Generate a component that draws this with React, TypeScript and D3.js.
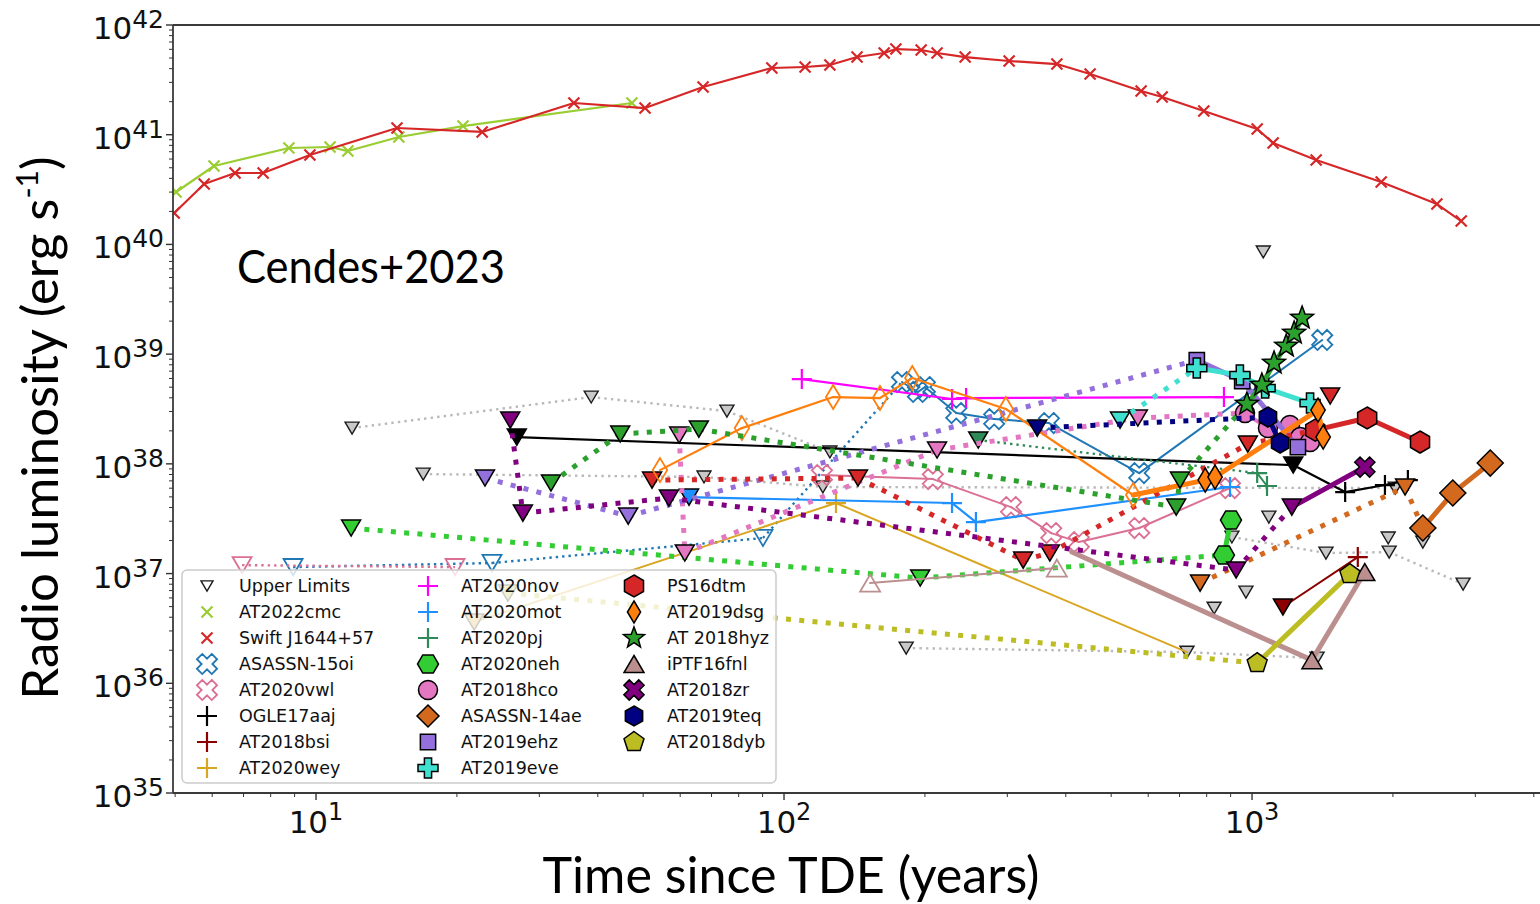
import React from 'react';
import * as d3 from 'd3';

type Pt = [number, number, number];
// Each point: [log10 time, log10 radio luminosity (erg/s), kind]
// kind 0 = detection, 1 = upper limit (dotted link), 2 = upper limit (solid link), 4 = line vertex only

const at2022cmc: Pt[] = [[0.701,40.478,0],[0.782,40.715,0],[0.942,40.879,0],[1.030,40.888,0],[1.068,40.851,0],[1.177,40.979,0],[1.314,41.079,0],[1.675,41.289,0]];
const swiftJ1644: Pt[] = [[0.697,40.286,0],[0.761,40.551,0],[0.827,40.651,0],[0.887,40.651,0],[0.987,40.815,0],[1.173,41.061,0],[1.355,41.025,0],[1.551,41.289,0],[1.703,41.243,0],[1.827,41.435,0],[1.974,41.608,0],[2.045,41.617,0],[2.098,41.635,0],[2.156,41.708,0],[2.214,41.745,0],[2.239,41.781,0],[2.293,41.772,0],[2.327,41.745,0],[2.387,41.708,0],[2.481,41.672,0],[2.583,41.644,0],[2.654,41.553,0],[2.763,41.398,0],[2.808,41.344,0],[2.897,41.216,0],[3.011,41.052,0],[3.045,40.924,0],[3.137,40.769,0],[3.276,40.569,0],[3.395,40.368,0],[3.447,40.213,0]];
const asassn15oi: Pt[] = [[0.951,37.059,1],[1.376,37.096,1],[1.955,37.324,1],[2.252,38.746,0],[2.286,38.655,0],[2.301,38.700,0],[2.368,38.463,0],[2.449,38.408,0],[2.566,38.372,0],[2.759,37.916,0],[3.150,39.129,0]];
const at2020vwlLimits: Pt[] = [[0.842,37.077,1],[1.297,37.059,1]];
const at2020vwl: Pt[] = [[2.081,37.898,0],[2.318,37.861,0],[2.485,37.606,0],[2.571,37.369,0],[2.630,37.287,0],[2.759,37.415,0],[2.953,37.779,0]];
const ogle17aaj: Pt[] = [[1.429,38.244,2],[3.088,37.989,2],[3.199,37.743,0],[3.284,37.807,0],[3.333,37.852,0]];
const at2018bsi: Pt[] = [[3.066,36.695,2],[3.226,37.150,0]];
const at2020wey: Pt[] = [[1.338,36.558,2],[2.111,37.643,0],[2.861,36.284,4]];
const at2020nov: Pt[] = [[2.038,38.773,0],[2.359,38.591,0],[2.389,38.600,0],[2.940,38.609,0]];
const at2020mot: Pt[] = [[1.797,37.697,2],[2.359,37.643,0],[2.410,37.469,0],[2.953,37.789,0]];
const at2020pj: Pt[] = [[2.415,38.217,1],[3.011,37.916,0],[3.032,37.798,0]];
const at2020neh: Pt[] = [[1.075,37.415,1],[2.291,36.959,1],[2.940,37.169,0],[2.955,37.488,0]];
const at2018hco: Pt[] = [[1.776,38.263,1],[1.788,37.187,1],[2.327,38.126,1],[2.756,38.418,1],[2.985,38.463,0],[3.034,38.326,0],[3.081,38.354,0],[3.103,38.244,0],[3.124,38.199,0]];
const asassn14ae: Pt[] = [[2.889,36.913,1],[3.327,37.789,1],[3.365,37.415,0],[3.429,37.734,0],[3.509,38.007,0]];
const at2019ehz: Pt[] = [[1.361,37.871,1],[1.667,37.524,1],[2.882,38.946,0],[2.979,38.755,0],[3.098,38.153,0]];
const at2019eve: Pt[] = [[2.718,38.399,1],[2.882,38.873,0],[2.974,38.809,0],[3.028,38.691,0],[3.124,38.554,0]];
const ps16dtm: Pt[] = [[1.718,37.852,1],[2.158,37.871,1],[2.511,37.123,1],[2.568,37.187,1],[2.991,38.180,1],[3.135,38.308,0],[3.246,38.418,0],[3.359,38.199,0]];
const ps16dtmLimit: Pt[] = [[3.167,38.618,1]];
const at2019dsgEarly: Pt[] = [[1.735,37.943,0],[1.910,38.326,0],[2.105,38.609,0],[2.205,38.600,0],[2.274,38.782,0],[2.474,38.500,0],[2.746,37.716,0]];
const at2019dsg: Pt[] = [[2.746,37.716,4],[2.900,37.852,0],[2.921,37.880,0],[3.141,38.490,0],[3.152,38.244,0]];
const at2018hyz: Pt[] = [[1.502,37.825,1],[1.650,38.272,1],[1.818,38.317,1],[2.838,37.606,1],[2.846,37.852,1],[2.989,38.545,0],[3.021,38.718,0],[3.047,38.919,0],[3.073,39.074,0],[3.090,39.192,0],[3.107,39.329,0]];
const iptf16fnlEarly: Pt[] = [[2.184,36.913,0],[2.583,37.050,0]];
const iptf16fnl: Pt[] = [[2.615,37.196,4],[3.128,36.211,0],[3.241,37.014,0]];
const at2018zr: Pt[] = [[1.415,38.399,1],[1.442,37.551,1],[1.754,37.688,1],[2.966,37.032,1],[3.085,37.606,2],[3.241,37.971,0]];
const at2019teq: Pt[] = [[2.541,38.326,1],[3.034,38.427,0],[3.060,38.190,0]];
const at2018dyb: Pt[] = [[1.410,36.822,1],[3.011,36.184,0],[3.209,36.995,0]];

const limitsA: Pt[] = [[1.077,38.326,1],[1.588,38.609,1],[1.878,38.481,1],[2.098,38.108,1]];
const limitsB: Pt[] = [[1.229,37.907,1],[1.829,37.880,1],[2.083,37.789,1],[3.306,37.779,1]];
const limitsC: Pt[] = [[2.957,37.333,1],[3.158,37.187,1],[3.293,37.196,1],[3.451,36.904,1]];
const limitsD: Pt[] = [[2.261,36.321,1],[2.861,36.284,1],[3.139,36.230,1]];
const limitsSingle: Pt[] = [[2.919,36.685,1],[2.987,36.831,1],[3.036,37.515,1],[3.365,37.287,1],[3.024,39.931,1],[3.291,37.324,1]];

const xTickExps = [1, 2, 3];
const yTickExps = [35, 36, 37, 38, 39, 40, 41, 42];

type Src = {
  name: string; tracks: Pt[][]; color: string; marker: string; ms: number; lw: number;
  dot: 'thick' | 'thin' | 'gray'; hollow?: boolean; legend?: boolean;
};

const grayTracks: Pt[][] = [limitsA, limitsB, limitsC, limitsD, ...limitsSingle.map((p) => [p])];

const sources: Src[] = [
  { name: 'Upper Limits', tracks: grayTracks, color: '#c8c8c8', marker: 'v', ms: 13, lw: 2, dot: 'gray', legend: true },
  { name: 'AT2022cmc', tracks: [at2022cmc], color: '#9acd32', marker: 'x', ms: 11, lw: 2.2, dot: 'thin', legend: true },
  { name: 'Swift J1644+57', tracks: [swiftJ1644], color: '#d62728', marker: 'x', ms: 11, lw: 2.2, dot: 'thin', legend: true },
  { name: 'ASASSN-15oi', tracks: [asassn15oi], color: '#1f77b4', marker: 'X', ms: 20, lw: 2, dot: 'thin', hollow: true, legend: true },
  { name: 'AT2020vwl', tracks: [at2020vwlLimits, at2020vwl], color: '#db7093', marker: 'X', ms: 20, lw: 2, dot: 'thin', hollow: true, legend: true },
  { name: 'OGLE17aaj', tracks: [ogle17aaj], color: '#000000', marker: '+', ms: 20, lw: 2.2, dot: 'thin', legend: true },
  { name: 'AT2018bsi', tracks: [at2018bsi], color: '#8b0000', marker: '+', ms: 20, lw: 2, dot: 'thin', legend: true },
  { name: 'AT2020wey', tracks: [at2020wey], color: '#daa520', marker: '+', ms: 20, lw: 2, dot: 'thin', legend: true },
  { name: 'AT2020nov', tracks: [at2020nov], color: '#ff00ff', marker: '+', ms: 20, lw: 2.2, dot: 'thin', legend: true },
  { name: 'AT2020mot', tracks: [at2020mot], color: '#1e90ff', marker: '+', ms: 20, lw: 2.2, dot: 'thin', legend: true },
  { name: 'AT2020pj', tracks: [at2020pj], color: '#2e8b57', marker: '+', ms: 20, lw: 2, dot: 'thin', legend: true },
  { name: 'AT2020neh', tracks: [at2020neh], color: '#32cd32', marker: 'H', ms: 21, lw: 5, dot: 'thick', legend: true },
  { name: 'AT2018hco', tracks: [at2018hco], color: '#e377c2', marker: 'o', ms: 19, lw: 4, dot: 'thick', legend: true },
  { name: 'ASASSN-14ae', tracks: [asassn14ae], color: '#d2691e', marker: 'D', ms: 26, lw: 5, dot: 'thick', legend: true },
  { name: 'AT2019ehz', tracks: [at2019ehz], color: '#9370db', marker: 's', ms: 18, lw: 5, dot: 'thick', legend: true },
  { name: 'AT2019eve', tracks: [at2019eve], color: '#40e0d0', marker: 'P', ms: 20, lw: 5, dot: 'thick', legend: true },
  { name: 'PS16dtm', tracks: [ps16dtm, ps16dtmLimit], color: '#d62728', marker: 'h', ms: 22, lw: 5, dot: 'thick', legend: true },
  { name: 'AT2019dsg-early', tracks: [at2019dsgEarly], color: '#ff7f0e', marker: 'd', ms: 24, lw: 2.2, dot: 'thin', hollow: true },
  { name: 'AT2019dsg', tracks: [at2019dsg], color: '#ff7f0e', marker: 'd', ms: 24, lw: 5, dot: 'thick', legend: true },
  { name: 'AT 2018hyz', tracks: [at2018hyz], color: '#2ca02c', marker: '*', ms: 24, lw: 5, dot: 'thick', legend: true },
  { name: 'iPTF16fnl-early', tracks: [iptf16fnlEarly], color: '#bc8f8f', marker: '^', ms: 20, lw: 2, dot: 'thin', hollow: true },
  { name: 'iPTF16fnl', tracks: [iptf16fnl], color: '#bc8f8f', marker: '^', ms: 20, lw: 5, dot: 'thick', legend: true },
  { name: 'AT2018zr', tracks: [at2018zr], color: '#800080', marker: 'X', ms: 20, lw: 5, dot: 'thick', legend: true },
  { name: 'AT2019teq', tracks: [at2019teq], color: '#000080', marker: 'h', ms: 20, lw: 5, dot: 'thick', legend: true },
  { name: 'AT2018dyb', tracks: [at2018dyb], color: '#bcbd22', marker: 'p', ms: 21, lw: 5, dot: 'thick', legend: true },
];

const legendOrder = [
  'Upper Limits', 'AT2022cmc', 'Swift J1644+57', 'ASASSN-15oi', 'AT2020vwl', 'OGLE17aaj', 'AT2018bsi', 'AT2020wey',
  'AT2020nov', 'AT2020mot', 'AT2020pj', 'AT2020neh', 'AT2018hco', 'ASASSN-14ae', 'AT2019ehz', 'AT2019eve',
  'PS16dtm', 'AT2019dsg', 'AT 2018hyz', 'iPTF16fnl', 'AT2018zr', 'AT2019teq', 'AT2018dyb',
];

function poly(n: number, r: number, start: number): string {
  const pts: string[] = [];
  for (let i = 0; i < n; i++) {
    const a = start + (2 * Math.PI * i) / n;
    pts.push(`${(r * Math.cos(a)).toFixed(2)},${(r * Math.sin(a)).toFixed(2)}`);
  }
  return 'M' + pts.join('L') + 'Z';
}

function markerPath(type: string, s: number): string {
  const r = s / 2;
  switch (type) {
    case 'v': return `M${-r},${-r * 0.85}L${r},${-r * 0.85}L0,${r * 0.85}Z`;
    case '^': return `M0,${-r * 0.85}L${r},${r * 0.85}L${-r},${r * 0.85}Z`;
    case 'h': return poly(6, r, -Math.PI / 2);
    case 'H': return poly(6, r, 0);
    case 'p': return poly(5, r, -Math.PI / 2);
    case 'o': return `M${r},0A${r},${r} 0 1,1 ${-r},0A${r},${r} 0 1,1 ${r},0Z`;
    case 's': return `M${-r * 0.85},${-r * 0.85}H${r * 0.85}V${r * 0.85}H${-r * 0.85}Z`;
    case 'D': return `M0,${-r}L${r},0L0,${r}L${-r},0Z`;
    case 'd': return `M0,${-r}L${r * 0.6},0L0,${r}L${-r * 0.6},0Z`;
    case '*': {
      const pts: string[] = [];
      for (let i = 0; i < 10; i++) {
        const rr = i % 2 ? r * 0.42 : r;
        const a = -Math.PI / 2 + (Math.PI * i) / 5;
        pts.push(`${(rr * Math.cos(a)).toFixed(2)},${(rr * Math.sin(a)).toFixed(2)}`);
      }
      return 'M' + pts.join('L') + 'Z';
    }
    case 'P':
    case 'X': {
      const a = r * 0.36;
      const base: [number, number][] = [[-a, -r], [a, -r], [a, -a], [r, -a], [r, a], [a, a], [a, r], [-a, r], [-a, a], [-r, a], [-r, -a], [-a, -a]];
      const pts = type === 'P' ? base : base.map(([u, v]) => [(u - v) / Math.SQRT2 * 1.05, (u + v) / Math.SQRT2 * 1.05] as [number, number]);
      return 'M' + pts.map((p) => `${p[0].toFixed(2)},${p[1].toFixed(2)}`).join('L') + 'Z';
    }
    case 'x': return `M${-r},${-r}L${r},${r}M${-r},${r}L${r},${-r}`;
    case '+': return `M${-r},0L${r},0M0,${-r}L0,${r}`;
    default: return '';
  }
}

function Marker({ src, kind, cx, cy, legend }: { src: Src; kind: number; cx: number; cy: number; legend?: boolean }) {
  if (kind === 4) return null;
  const isUL = kind !== 0;
  const gray = src.dot === 'gray';
  if (isUL) {
    const s = gray ? (legend ? 12 : 14) : 19;
    const d = markerPath('v', s);
    if (gray) return <path d={d} transform={`translate(${cx},${cy})`} fill={legend ? '#ffffff' : '#c8c8c8'} stroke="#1a1a1a" strokeWidth={1.4} />;
    if (src.hollow) return <path d={d} transform={`translate(${cx},${cy})`} fill="none" stroke={src.color} strokeWidth={1.8} />;
    return <path d={d} transform={`translate(${cx},${cy})`} fill={src.color} stroke="#000" strokeWidth={1.5} />;
  }
  const s = legend ? Math.min(src.ms, 22) : src.ms;
  const d = markerPath(src.marker, s);
  if (src.marker === 'x' || src.marker === '+') {
    return <path d={d} transform={`translate(${cx},${cy})`} fill="none" stroke={src.color} strokeWidth={2.2} />;
  }
  if (src.hollow) return <path d={d} transform={`translate(${cx},${cy})`} fill="none" stroke={src.color} strokeWidth={1.8} strokeLinejoin="miter" />;
  return <path d={d} transform={`translate(${cx},${cy})`} fill={src.color} stroke="#000" strokeWidth={1.5} strokeLinejoin="miter" />;
}

const L = 173, R = 1545, T = 25, B = 793;

export default function App() {
  const x = d3.scaleLog().domain([10 ** 0.6944, 10 ** 3.626]).range([L, R]);
  const y = d3.scaleLog().domain([1e35, 1e42]).range([B, T]);
  const X = (p: Pt) => x(10 ** p[0]);
  const Y = (p: Pt) => y(10 ** p[1]);

  const xMinor: number[] = [];
  for (let e = 0; e <= 3; e++) for (let k = 2; k <= 9; k++) {
    const v = k * 10 ** e;
    if (v >= 10 ** 0.6944 && v <= 10 ** 3.626) xMinor.push(v);
  }
  const yMinor: number[] = [];
  for (let e = 35; e < 42; e++) for (let k = 2; k <= 9; k++) yMinor.push(k * 10 ** e);

  const dotStyle = (src: Src) => {
    if (src.dot === 'gray') return { stroke: '#b9b9b9', width: 2.4, dash: '2.4 4.2' };
    if (src.dot === 'thick') return { stroke: src.color, width: 5, dash: '5 8.3' };
    return { stroke: src.color, width: 2.4, dash: '2.4 4' };
  };

  const renderSource = (src: Src, si: number) => (
    <g key={si}>
      {src.tracks.map((tr, ti) => (
        <g key={ti}>
          {tr.slice(1).map((b, i) => {
            const a = tr[i];
            const dotted = a[2] === 1 || b[2] === 1;
            if (dotted) {
              const ds = dotStyle(src);
              return <line key={i} x1={X(a)} y1={Y(a)} x2={X(b)} y2={Y(b)} stroke={ds.stroke} strokeWidth={ds.width} strokeDasharray={ds.dash} />;
            }
            return <line key={i} x1={X(a)} y1={Y(a)} x2={X(b)} y2={Y(b)} stroke={src.color} strokeWidth={src.lw} strokeLinecap="round" />;
          })}
          {tr.map((p, i) => <Marker key={'m' + i} src={src} kind={p[2]} cx={X(p)} cy={Y(p)} />)}
        </g>
      ))}
    </g>
  );

  const rowH = 26;
  const colMarkerX = [207, 428, 634];
  const colTextX = [239, 461, 667];

  return (
    <svg width={1540} height={904} style={{ position: 'absolute', left: 0, top: 0, background: '#fff' }} fontFamily="DejaVu Sans">
      <defs>
        <clipPath id="plotclip"><rect x={L} y={T} width={R - L} height={B - T} /></clipPath>
      </defs>
      <rect x={0} y={0} width={1540} height={904} fill="#fff" />
      <g clipPath="url(#plotclip)">
        {sources.map(renderSource)}
      </g>

      {/* spines */}
      <line x1={L} y1={T} x2={R} y2={T} stroke="#3a3a3a" strokeWidth={1.8} />
      <line x1={L} y1={B} x2={R} y2={B} stroke="#3a3a3a" strokeWidth={1.8} />
      <line x1={L} y1={T} x2={L} y2={B} stroke="#3a3a3a" strokeWidth={1.8} />

      {/* y ticks */}
      {yMinor.map((v, i) => <line key={'ym' + i} x1={L - 4} x2={L} y1={y(v)} y2={y(v)} stroke="#333" strokeWidth={1} />)}
      {yTickExps.map((e) => (
        <g key={'y' + e}>
          <line x1={L - 7} x2={L} y1={y(10 ** e)} y2={y(10 ** e)} stroke="#333" strokeWidth={1.4} />
          <text x={164} y={y(10 ** e) + 14} textAnchor="end" fontSize={31} fill="#111">10<tspan dy={-11} fontSize={25}>{e}</tspan></text>
        </g>
      ))}

      {/* x ticks */}
      {xTickExps.map((e) => null)}
      {xMinor.map((v, i) => <line key={'xm' + i} x1={x(v)} x2={x(v)} y1={B} y2={B + 4} stroke="#333" strokeWidth={1} />)}
      {xTickExps.map((e) => (
        <g key={'x' + e}>
          <line x1={x(10 ** e)} x2={x(10 ** e)} y1={B} y2={B + 7} stroke="#333" strokeWidth={1.4} />
          <text x={x(10 ** e)} y={833} textAnchor="middle" fontSize={31} fill="#111">10<tspan dy={-13} fontSize={24}>{e}</tspan></text>
        </g>
      ))}

      {/* axis titles */}
      <text x={791} y={893} textAnchor="middle" fontFamily="Lato" fontSize={50} textLength={497} lengthAdjust="spacingAndGlyphs">Time since TDE (years)</text>
      <text transform="translate(58,428) rotate(-90)" textAnchor="middle" fontFamily="Lato" fontSize={51}>
        Radio luminosity (erg s<tspan dy={-20} fontSize={30}>-1</tspan><tspan dy={20}>)</tspan>
      </text>
      <text x={237} y={283} fontFamily="Lato" fontSize={46} textLength={268} lengthAdjust="spacingAndGlyphs">Cendes+2023</text>

      {/* legend */}
      <rect x={182} y={570} width={594} height={213} rx={5} fill="#fff" fillOpacity={0.8} stroke="#cccccc" strokeWidth={1.5} />
      {legendOrder.map((name, i) => {
        const src = sources.find((s) => s.name === name)!;
        const col = Math.floor(i / 8), row = i % 8;
        const cy = 586 + row * rowH;
        const isGray = src.dot === 'gray';
        return (
          <g key={'lg' + i}>
            <Marker src={src} kind={isGray ? 1 : 0} cx={colMarkerX[col]} cy={cy} legend />
            <text x={colTextX[col]} y={cy + 6} fontSize={17.5} fill="#111">{name}</text>
          </g>
        );
      })}
    </svg>
  );
}
